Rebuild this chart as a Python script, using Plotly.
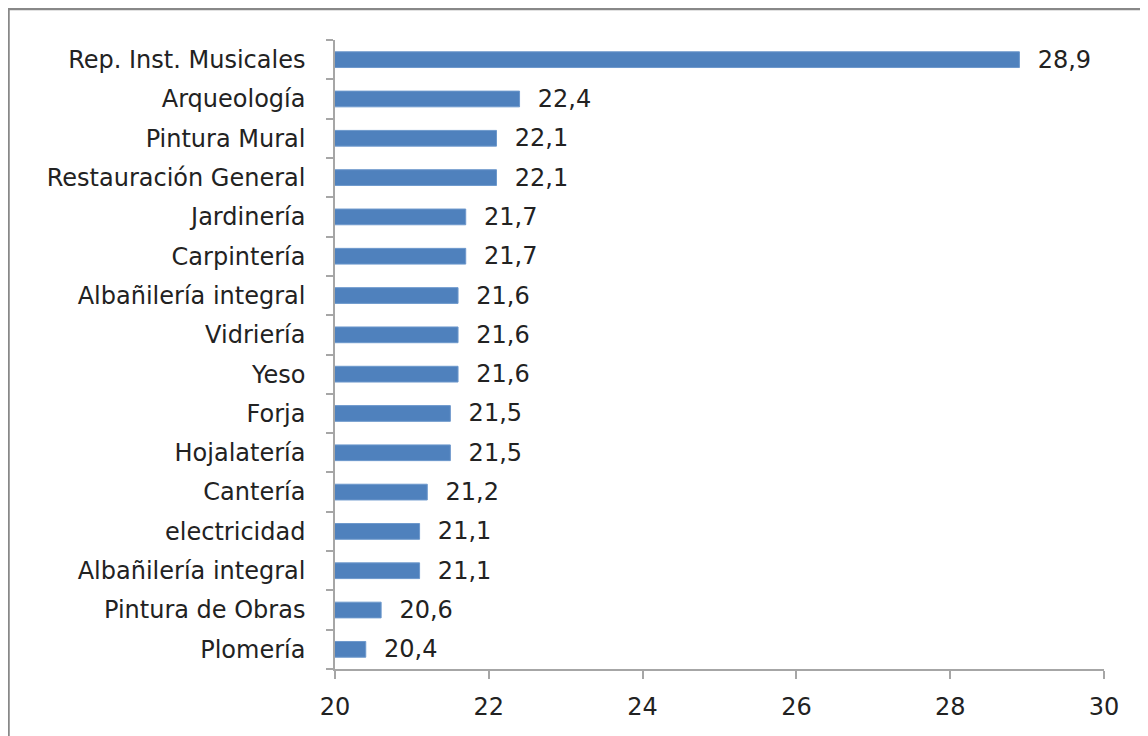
import plotly.graph_objects as go

categories = ["Rep. Inst. Musicales", "Arqueología", "Pintura Mural", "Restauración General",
              "Jardinería", "Carpintería", "Albañilería integral", "Vidriería", "Yeso", "Forja",
              "Hojalatería", "Cantería", "electricidad", "Albañilería integral",
              "Pintura de Obras", "Plomería"]
values = [28.9, 22.4, 22.1, 22.1, 21.7, 21.7, 21.6, 21.6, 21.6, 21.5, 21.5, 21.2, 21.1, 21.1, 20.6, 20.4]
x_ticks = [20, 22, 24, 26, 28, 30]

positions = list(range(len(categories)))
FONT = "DejaVu Sans"
FS = 24
TXT = "#222222"
AX = "#a6a6a6"

W, H = 1140, 728  # page has 8px body margin
L, R, T, B = 327, 44, 32, 67
PW, PH = W - L - R, H - T - B

fig = go.Figure(go.Bar(
    x=values, y=positions, orientation="h", width=0.4,
    marker=dict(color="#4f81bd", line=dict(color="#6d98cc", width=1)),
    text=[("\u00a0\u00a0" + f"{v:.1f}".replace(".", ",")) for v in values],
    textposition="outside", cliponaxis=False, constraintext="none",
    textfont=dict(family=FONT, size=FS, color=TXT),
))

fig.update_layout(
    width=W, height=H,
    margin=dict(l=L, r=R, t=T, b=B, autoexpand=False),
    paper_bgcolor="white", plot_bgcolor="white",
    showlegend=False,
    font=dict(family=FONT, size=FS, color=TXT),
    shapes=[dict(type="rect", xref="paper", yref="paper",
                 x0=(0.5 - L) / PW, x1=(W + 20 - L) / PW,
                 y0=(H - B - 1) / PH, y1=-(B + 20) / PH,
                 line=dict(color="#888888", width=2.5), fillcolor="rgba(0,0,0,0)", layer="below")],
)
fig.update_xaxes(range=[20, 30], tickvals=x_ticks, showgrid=False, zeroline=False,
                 showline=True, linecolor=AX, linewidth=1.5,
                 ticks="outside", ticklen=8, tickcolor=AX, tickwidth=1.5,
                 ticklabelstandoff=7, tickfont=dict(family=FONT, size=FS, color=TXT))
fig.update_yaxes(range=[len(categories) - 0.5, -0.5], tickvals=positions, ticktext=categories,
                 showgrid=False, zeroline=False, showline=True, linecolor=AX, linewidth=1.5,
                 ticks="", ticklabelstandoff=23,
                 minor=dict(tick0=0.5, dtick=1, ticks="outside", ticklen=7, tickcolor=AX, tickwidth=1.5),
                 tickfont=dict(family=FONT, size=FS, color=TXT))

fig.write_html("out.html")
